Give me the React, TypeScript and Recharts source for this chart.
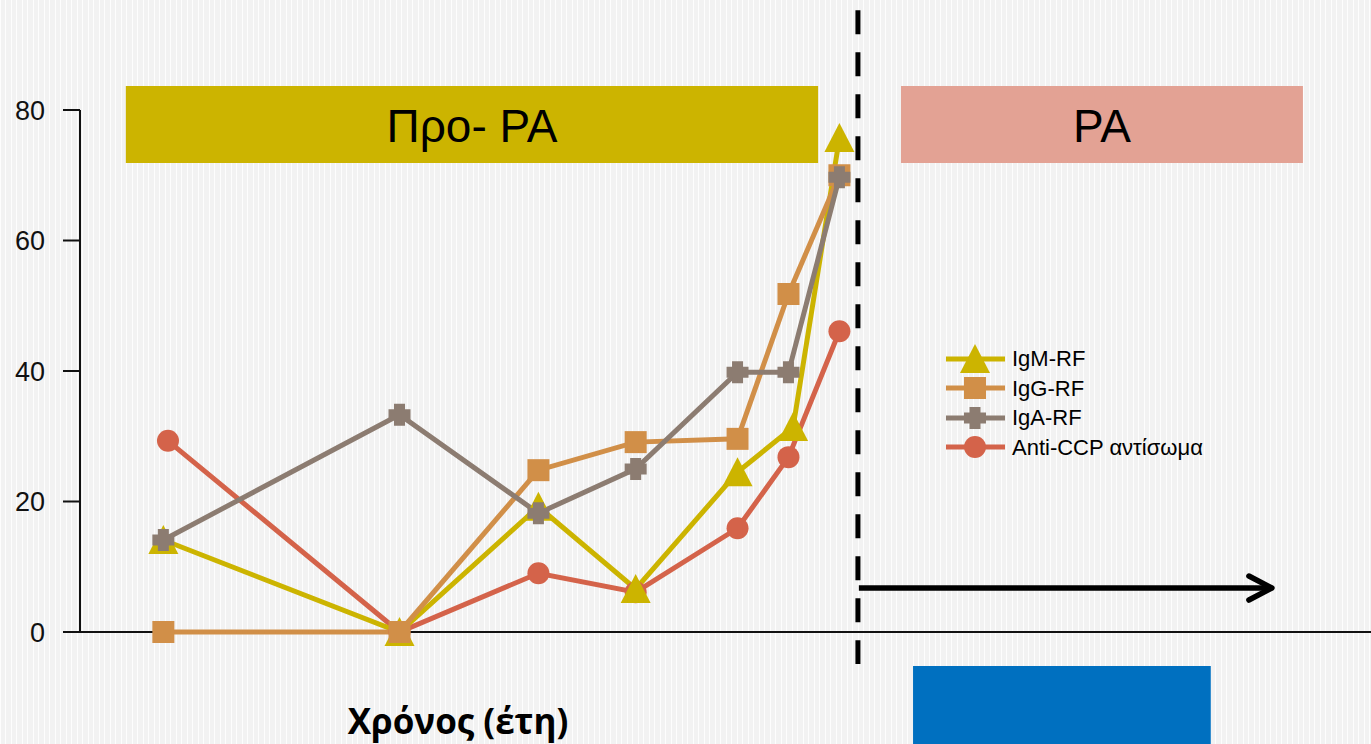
import {
  ComposedChart,
  Line,
  XAxis,
  YAxis,
  ReferenceArea,
  ReferenceLine,
} from "recharts";

// years relative to diagnosis (0 = onset of RA)
const years = [-15, -9.9, -6.9, -4.8, -2.6, -1.5, -0.4];
const igmYears = [-15, -9.9, -6.9, -4.8, -2.6, -1.4, -0.4];
const ccpYears = [-14.9, -9.9, -6.9, -4.8, -2.6, -1.5, -0.4];

// % positive
const igmValues = [14.1, 0, 19.2, 6.6, 24.5, 31.4, 75.7];
const iggValues = [0, 0, 24.8, 29.1, 29.6, 51.8, 70.0];
const igaValues = [14.1, 33.3, 18.2, 25.0, 39.8, 39.8, 69.7];
const ccpValues = [29.3, 0, 9.0, 6.1, 15.9, 26.8, 46.1];

const yTicks = [0, 20, 40, 60, 80];

const toPoints = (xs: number[], ys: number[]) => xs.map((x, i) => ({ x, y: ys[i] }));

type MarkerKind = "triangle" | "square" | "plus" | "circle";

const SERIES: Array<{
  key: string;
  label: string;
  color: string;
  marker: MarkerKind;
  data: { x: number; y: number }[];
}> = [
  { key: "igm", label: "IgM-RF", color: "#CCB400", marker: "triangle", data: toPoints(igmYears, igmValues) },
  { key: "igg", label: "IgG-RF", color: "#D18F48", marker: "square", data: toPoints(years, iggValues) },
  { key: "iga", label: "IgA-RF", color: "#8C7C71", marker: "plus", data: toPoints(years, igaValues) },
  { key: "ccp", label: "Anti-CCP αντίσωμα", color: "#D4634A", marker: "circle", data: toPoints(ccpYears, ccpValues) },
];

// paint order: CCP at the bottom, IgA on top
const DRAW_ORDER = ["ccp", "igm", "igg", "iga"];

const X_MIN = -16.8;
const X_MAX = 11.08;

const FONT = "'Liberation Sans', Arial, sans-serif";
const AXIS = "#111";

function Marker({ kind, cx, cy, color }: { kind: MarkerKind; cx: number; cy: number; color: string }) {
  if (kind === "triangle") {
    return <polygon points={`${cx},${cy - 15} ${cx + 15},${cy + 14} ${cx - 15},${cy + 14}`} fill={color} />;
  }
  if (kind === "square") {
    return <rect x={cx - 11} y={cy - 11} width={22} height={22} fill={color} />;
  }
  if (kind === "plus") {
    const a = 11;
    const b = 5.5;
    const d = `M${cx - b},${cy - a}H${cx + b}V${cy - b}H${cx + a}V${cy + b}H${cx + b}V${cy + a}H${cx - b}V${cy + b}H${cx - a}V${cy - b}H${cx - b}Z`;
    return <path d={d} fill={color} />;
  }
  return <circle cx={cx} cy={cy} r={11} fill={color} />;
}

function BannerLabel({ viewBox, value }: any) {
  if (!viewBox) return null;
  const { x, y, width, height } = viewBox;
  return (
    <text
      x={x + width / 2}
      y={y + height / 2 + 2}
      textAnchor="middle"
      dominantBaseline="central"
      fontSize={46}
      fontFamily={FONT}
      fill="#000"
    >
      {value}
    </text>
  );
}

function Arrow(props: any) {
  const { x1, y1, x2, y2 } = props;
  return (
    <g>
      <line x1={x1} y1={y1} x2={x2 - 3} y2={y2} stroke="#000" strokeWidth={5.5} />
      <polyline
        points={`${x2 - 23},${y2 - 12} ${x2},${y2} ${x2 - 23},${y2 + 12}`}
        fill="none"
        stroke="#000"
        strokeWidth={5.5}
        strokeLinecap="round"
        strokeLinejoin="round"
      />
    </g>
  );
}

function LegendBox() {
  return (
    <div style={{ display: "flex", flexDirection: "column", fontFamily: FONT, fontSize: 22, color: "#000" }}>
      {SERIES.map((s) => (
        <div key={s.key} style={{ display: "flex", alignItems: "center", height: 29.5 }}>
          <svg width={64} height={30} style={{ display: "block" }}>
            <line x1={2} y1={15} x2={61} y2={15} stroke={s.color} strokeWidth={5} />
            <Marker kind={s.marker} cx={31} cy={15} color={s.color} />
          </svg>
          <span style={{ marginLeft: 4, lineHeight: "29px" }}>{s.label}</span>
        </div>
      ))}
    </div>
  );
}

export default function App() {
  const ordered = DRAW_ORDER.map((k) => SERIES.find((s) => s.key === k)!);

  return (
    <div
      style={{
        position: "absolute",
        left: 0,
        top: 0,
        width: 1371,
        height: 744,
        overflow: "hidden",
        backgroundColor: "#F2F2F2",
        backgroundImage:
          "repeating-linear-gradient(90deg, rgba(255,255,255,0.85) 0px, rgba(255,255,255,0.85) 1px, transparent 1px, transparent 5.5px)",
      }}
    >
      <ComposedChart width={1371} height={744} margin={{ top: 110, right: 0, bottom: 112, left: 0 }}>
        <XAxis
          type="number"
          dataKey="x"
          domain={[X_MIN, X_MAX]}
          allowDataOverflow
          tick={false}
          tickLine={false}
          height={0}
          axisLine={false}
        />
        <YAxis
          type="number"
          domain={[0, 80]}
          ticks={yTicks}
          width={80}
          tickSize={17}
          tickMargin={18}
          axisLine={{ stroke: AXIS, strokeWidth: 2 }}
          tickLine={{ stroke: AXIS, strokeWidth: 2 }}
          tick={{ fontSize: 27, fill: "#111", fontFamily: FONT }}
        />

        {/* horizontal baseline, running a little past the y axis like the original */}
        <ReferenceLine
          segment={[
            { x: X_MIN - 0.08, y: 0 },
            { x: X_MAX, y: 0 },
          ]}
          ifOverflow="visible"
          stroke={AXIS}
          strokeWidth={2}
        />

        <ReferenceArea
          x1={-15.81}
          x2={-0.86}
          y1={71.88}
          y2={83.68}
          ifOverflow="visible"
          fill="#CCB400"
          fillOpacity={1}
          stroke="none"
          label={<BannerLabel value="Προ- ΡΑ" />}
        />
        <ReferenceArea
          x1={0.93}
          x2={9.61}
          y1={71.88}
          y2={83.68}
          ifOverflow="visible"
          fill="#E3A294"
          fillOpacity={1}
          stroke="none"
          label={<BannerLabel value="ΡΑ" />}
        />
        <ReferenceArea
          x1={1.19}
          x2={7.62}
          y1={-20}
          y2={-5.21}
          ifOverflow="visible"
          fill="#0070C0"
          fillOpacity={1}
          stroke="none"
        />

        <ReferenceLine
          segment={[
            { x: 0, y: 95.3 },
            { x: 0, y: -4.9 },
          ]}
          ifOverflow="visible"
          stroke="#000"
          strokeWidth={5}
          strokeDasharray="24 18"
        />
        <ReferenceLine
          segment={[
            { x: 0.02, y: 6.74 },
            { x: 8.94, y: 6.74 },
          ]}
          ifOverflow="visible"
          shape={<Arrow />}
        />

        {ordered.map((s) => (
          <Line
            key={s.key}
            data={s.data}
            dataKey="y"
            name={s.label}
            type="linear"
            stroke={s.color}
            strokeWidth={5}
            isAnimationActive={false}
            dot={(p: any) => <Marker key={`${s.key}-${p.index}`} kind={s.marker} cx={p.cx} cy={p.cy} color={s.color} />}
            activeDot={false}
          />
        ))}
      </ComposedChart>

      <div style={{ position: "absolute", left: 944, top: 344 }}>
        <LegendBox />
      </div>

      <div
        style={{
          position: "absolute",
          left: 258,
          top: 697,
          width: 400,
          textAlign: "center",
          fontFamily: "'Open Sans', sans-serif",
          fontWeight: 700,
          fontSize: 35,
          lineHeight: "48px",
          color: "#000",
        }}
      >
        Χρόνος (έτη)
      </div>
    </div>
  );
}
